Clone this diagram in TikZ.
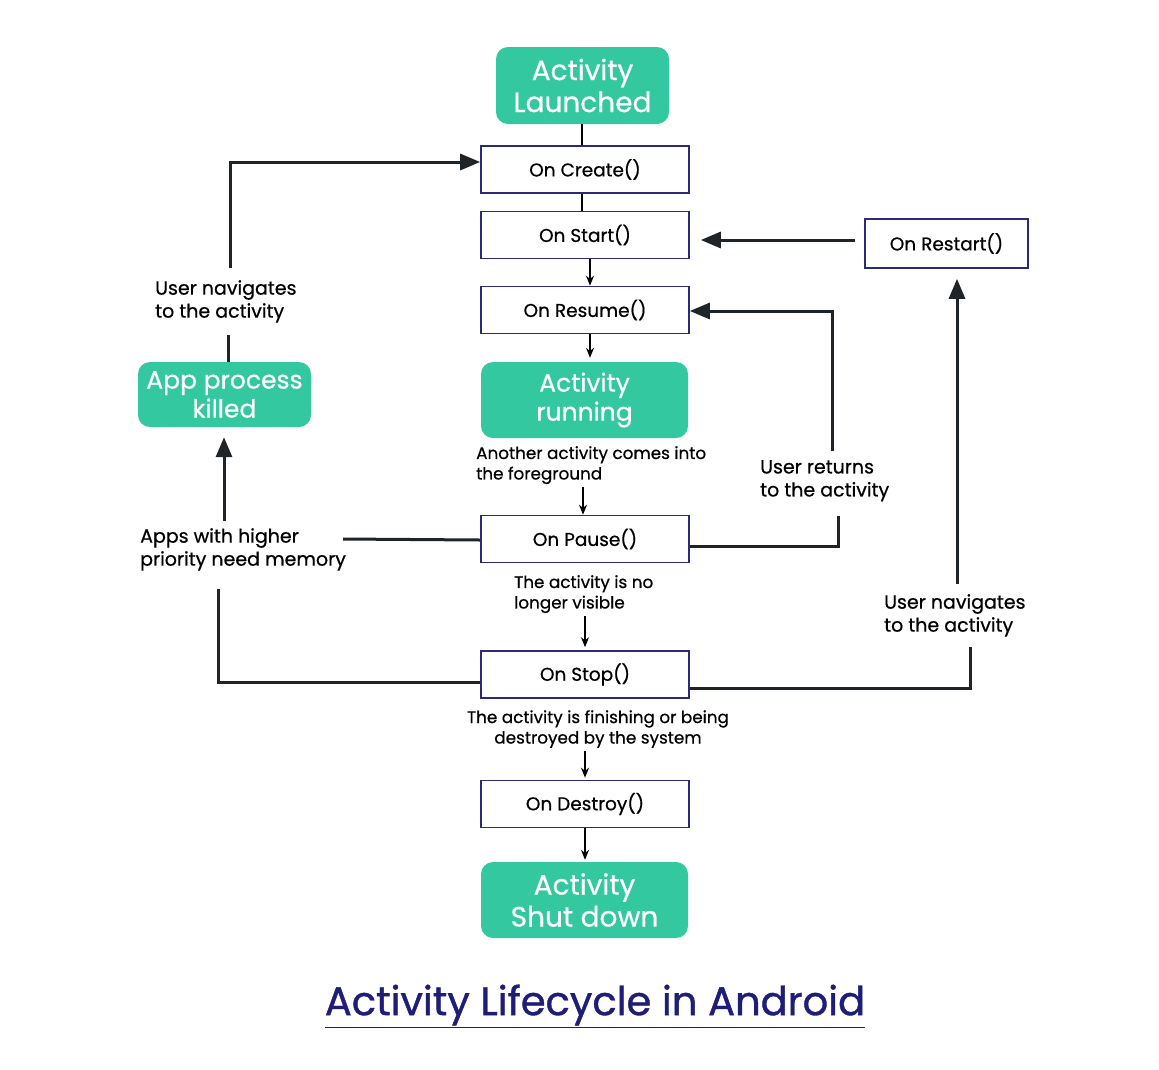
\documentclass[tikz,border=0pt]{standalone}
\usepackage{fontspec}
\setmainfont{Poppins}[FakeBold=0.6]
\newfontfamily\titlefont{Poppins}[FakeBold=1.0]
\usetikzlibrary{arrows.meta}
\definecolor{mint}{HTML}{33C8A0}
\definecolor{navy}{HTML}{2B2A78}
\definecolor{ink}{HTML}{1F2429}
\definecolor{titleblue}{HTML}{1E1E78}
\begin{document}
\begin{tikzpicture}[x=1pt,y=-1pt,
 box/.style={draw=navy, line width=1.6pt, minimum width=208pt, minimum height=47pt, inner sep=0pt, font=\fontsize{18.5}{20}\selectfont, text=black},
 state/.style={fill=mint, rounded corners=12pt, text=white, align=center, inner sep=0pt},
 lbl/.style={align=left, inner sep=0pt, anchor=north west, font=\fontsize{19}{23}\selectfont},
 slbl/.style={align=left, inner sep=0pt, anchor=north west, font=\fontsize{16.8}{20.5}\selectfont},
 thinarrow/.style={draw=black, line width=1.4pt, -{Stealth[length=10pt,width=8pt]}},
 thinline/.style={draw=black, line width=1.4pt},
 thickline/.style={draw=ink, line width=3pt},
 bigarrow/.style={thickline, -{Triangle[length=20pt,width=16pt]}}
]
\useasboundingbox (0,0) rectangle (1159,1069);
\fill[white] (0,0) rectangle (1159,1069);

% states
\node[state, minimum width=173pt, minimum height=77pt, font=\fontsize{28}{32}\selectfont] (launch) at (582.5,85.5) {Activity\\Launched};
\node[state, minimum width=207pt, minimum height=76pt, font=\fontsize{25}{29}\selectfont] (running) at (584.5,400) {Activity\\running};
\node[state, minimum width=173pt, minimum height=65pt, font=\fontsize{25}{29}\selectfont] (killed) at (224.5,394.5) {App process\\killed};
\node[state, minimum width=207pt, minimum height=76pt, font=\fontsize{28}{32}\selectfont] (shut) at (584.5,900) {Activity\\Shut down};

% boxes
\node[box] (create) at (585,169.5) {On Create()};
\node[box] (start) at (585,235) {On Start()};
\node[box] (resume) at (585,310) {On Resume()};
\node[box] (pause) at (585,539) {On Pause()};
\node[box] (stop) at (585,674.5) {On Stop()};
\node[box] (destroy) at (585,804) {On Destroy()};
\node[box, minimum width=163pt, minimum height=49pt] (restart) at (946.5,243.5) {On Restart()};

% labels
\node[lbl] (navL) at (155,280) {User navigates\\to the activity};
\node[lbl] (apps) at (140,528) {Apps with higher\\priority need memory};
\node[lbl] (returns) at (760,460) {User returns\\to the activity};
\node[lbl] (navR) at (884,594) {User navigates\\to the activity};
\node[slbl] (another) at (476,446) {Another activity comes into\\the foreground};
\node[slbl] (novis) at (514,575) {The activity is no\\longer visible};
\node[slbl, align=center, anchor=north] (finish) at (598,710) {The activity is finishing or being\\destroyed by the system};

% title
\node[font=\titlefont\fontsize{40}{44}\selectfont, text=titleblue, inner sep=0pt] (title) at (595,1006) {\underline{Activity Lifecycle in Android}};

% free ends
\coordinate (appsR) at (343,539);

% main column
\draw[thinline] (launch.south -| 582,0) -- (create.north -| 582,0);
\draw[thinline] (create.south -| 582,0) -- (start.north -| 582,0);
\draw[thinarrow] (start.south -| 590,0) -- (resume.north -| 590,0);
\draw[thinarrow] (resume.south -| 590,0) -- ([yshift=4pt]running.north -| 590,0);
\draw[thinarrow] ([yshift=-3pt]another.south -| 583,0) -- (pause.north -| 583,0);
\draw[thinarrow] ([yshift=-3pt]novis.south -| 585,0) -- ([yshift=3pt]stop.north -| 585,0);
\draw[thinarrow] ([yshift=-3pt]finish.south -| 585,0) -- ([yshift=2pt]destroy.north -| 585,0);
\draw[thinarrow] (destroy.south -| 585,0) -- ([yshift=2pt]shut.north -| 585,0);

% restart -> start
\draw[bigarrow] ([xshift=-9pt]restart.west |- 0,240) -- ([xshift=11pt]start.east |- 0,240);

% pause -> resume (user returns)
\draw[thickline] (pause.east |- 0,546) -| ([yshift=-14pt]returns.south -| 838,0);
\draw[bigarrow] ([yshift=9pt]returns.north -| 832,0) |- (resume.east |- 0,311);

% stop -> restart (user navigates)
\draw[thickline] (stop.east |- 0,688) -| ([yshift=-10pt]navR.south -| 970,0);
\draw[bigarrow] ([yshift=10pt]navR.north -| 957,0) -- ([yshift=-10pt]restart.south -| 957,0);

% pause/stop -> app killed
\draw[thickline] (pause.west |- 0,540) -- (appsR);
\draw[bigarrow] ([yshift=7pt]apps.north -| 224,0) -- ([yshift=-10pt]killed.south -| 224,0);
\draw[thickline] (stop.west |- 0,682) -| ([yshift=-18pt]apps.south -| 218,0);

% app killed -> create
\draw[thickline] (killed.north -| 228,0) -- ([yshift=-12pt]navL.south -| 228,0);
\draw[bigarrow] ([yshift=12pt]navL.north -| 230,0) |- (create.west |- 0,162);
\end{tikzpicture}
\end{document}
